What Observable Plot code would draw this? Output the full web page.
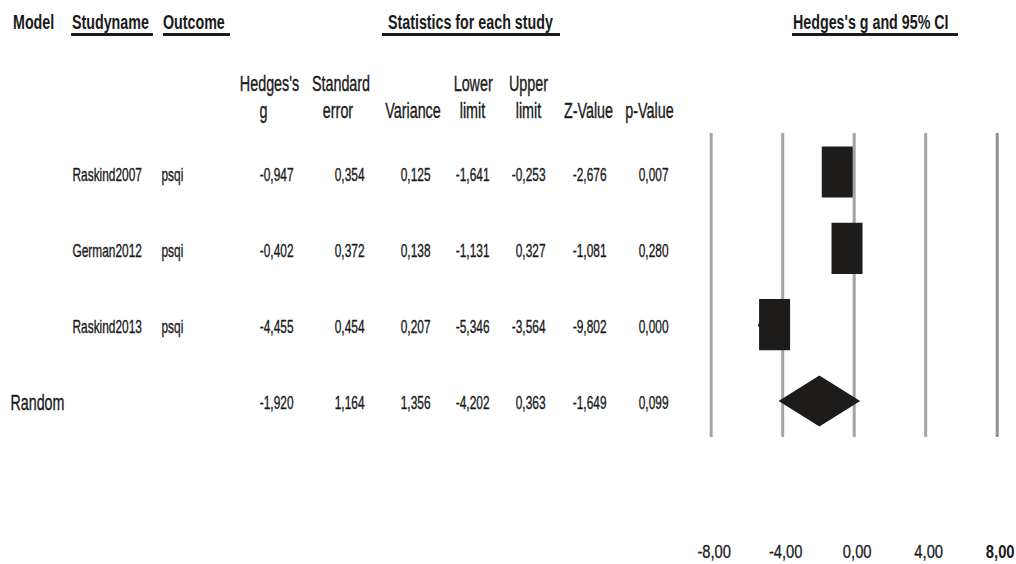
<!DOCTYPE html>
<html>
<head>
<meta charset="utf-8">
<script src="https://cdn.jsdelivr.net/npm/d3@7"></script>
<script src="https://cdn.jsdelivr.net/npm/@observablehq/plot@0.6"></script>
<style>
  html, body { margin: 0; padding: 0; background: #fff; }
  #chart { position: relative; width: 1016px; height: 564px; overflow: hidden;
    font-family: "Liberation Sans", Arial, sans-serif; color: #1a1a1a; }
  .hdr { position: absolute; top: 14px; height: 19px; line-height: 19px; font-size: 17.4px; font-weight: bold; white-space: nowrap; }
  .hdr span { display: inline-block; transform: scale(0.82, 1.2); transform-origin: 0 15.5px; }
  .ul { border-bottom: 3px solid #1a1a1a; }
  .panel { position: absolute; top: 0; }
</style>
</head>
<body>
<div id="chart">
  <div class="hdr" style="left:13px"><span>Model</span></div>
  <div class="hdr ul" style="left:71px;padding-left:1px;padding-right:4px"><span>Studyname</span></div>
  <div class="hdr ul" style="left:163px;padding-right:5px"><span>Outcome</span></div>
  <div class="hdr ul" style="left:382px;padding-left:6px;padding-right:7px"><span>Statistics for each study</span></div>
  <div class="hdr ul" style="left:792px;padding-left:1px;padding-right:9px"><span>Hedges's g and 95% CI</span></div>
  <div id="table" class="panel" style="left:0"></div>
  <div id="forest" class="panel" style="left:690px"></div>
</div>
<script>
// ---------- data ----------
const studies = ["Raskind2007", "German2012", "Raskind2013"];
const outcomes = ["psqi", "psqi", "psqi"];
const hedgesG = [-0.947, -0.402, -4.455];
const stdError = [0.354, 0.372, 0.454];
const variance = [0.125, 0.138, 0.207];
const lowerLimit = [-1.641, -1.131, -5.346];
const upperLimit = [-0.253, 0.327, -3.564];
const zValue = [-2.676, -1.081, -9.802];
const pValue = [0.007, 0.280, 0.000];
const summaryModel = "Random";
const summaryStats = [-1.920, 1.164, 1.356, -4.202, 0.363, -1.649, 0.099]; // g, se, var, lower, upper, z, p
const statKeys = ["g", "se", "var", "lower", "upper", "z", "p"];
const headerLine1 = ["Hedges's", "Standard", "", "Lower", "Upper", "", ""];
const headerLine2 = ["g", "error", "Variance", "limit", "limit", "Z-Value", "p-Value"];
const tickValues = [-8, -4, 0, 4, 8];

// ---------- layout (pixels, not data) ----------
const colRight = {g: 293, se: 364, var: 430, lower: 489, upper: 545, z: 606, p: 668};
const head1X = [269, 340.5, 0, 472.7, 528, 0, 0];
const head2X = [263, 337.5, 412.5, 472, 528, 588, 649];
const ink = "#1a1a1a";
const fontFamily = '"Liberation Sans", Arial, sans-serif';

const fmt3 = v => v.toFixed(3).replace(".", ",");
const fmt2 = v => v.toFixed(2).replace(".", ",");

const rowKeys = [...studies, summaryModel];
const studyStats = [hedgesG, stdError, variance, lowerLimit, upperLimit, zValue, pValue];

const cells = [];
studies.forEach((s, i) => statKeys.forEach((k, j) => cells.push({row: s, col: k, value: studyStats[j][i]})));
statKeys.forEach((k, j) => cells.push({row: summaryModel, col: k, value: summaryStats[j]}));

const headers = [];
statKeys.forEach((k, j) => {
  if (headerLine1[j]) headers.push({line: 1, x: head1X[j], text: headerLine1[j]});
  headers.push({line: 2, x: head2X[j], text: headerLine2[j]});
});

// narrow + tall glyphs, scaled about each text's own anchor
function stretch(svg, sx, sy) {
  d3.select(svg).selectAll("text").each(function () {
    const t = this.getAttribute("transform");
    if (t) this.setAttribute("transform", `${t} scale(${sx},${sy})`);
    else {
      const x = +this.getAttribute("x") || 0, y = +this.getAttribute("y") || 0;
      this.setAttribute("transform", `translate(${x},${y}) scale(${sx},${sy}) translate(${-x},${-y})`);
    }
  });
  return svg;
}

const textStyle = {fill: ink, stroke: ink, strokeWidth: 0.3};

// ---------- table ----------
const table = Plot.plot({
  width: 690, height: 564,
  marginTop: 0, marginBottom: 0, marginLeft: 0, marginRight: 0,
  style: {fontFamily, background: "transparent", color: ink, overflow: "visible"},
  x: {type: "identity", axis: null},
  y: {type: "point", domain: rowKeys, range: [174, 403], padding: 0, axis: null},
  marks: [
    Plot.text(headers.filter(d => d.line === 1), {x: "x", frameAnchor: "top", lineAnchor: "middle", dy: 84, text: "text", fontSize: 17.5, ...textStyle}),
    Plot.text(headers.filter(d => d.line === 2), {x: "x", frameAnchor: "top", lineAnchor: "middle", dy: 111, text: "text", fontSize: 17.5, ...textStyle}),
    Plot.text(studies, {x: 72, y: d => d, text: d => d, textAnchor: "start", fontSize: 14.5, ...textStyle}),
    Plot.text(studies.map((s, i) => ({row: s, outcome: outcomes[i]})), {x: 161, y: "row", text: "outcome", textAnchor: "start", fontSize: 14.5, ...textStyle}),
    Plot.text([summaryModel], {x: 10, y: d => d, text: d => d, textAnchor: "start", fontSize: 17.4, ...textStyle}),
    Plot.text(cells, {x: d => colRight[d.col], y: "row", text: d => fmt3(d.value), textAnchor: "end", fontSize: 14.5, ...textStyle})
  ]
});
document.getElementById("table").appendChild(stretch(table, 0.82, 1.22));

// ---------- forest ----------
const studyRows = studies.map((s, i) => ({i, g: hedgesG[i], lo: lowerLimit[i], hi: upperLimit[i]}));
const sumIdx = rowKeys.indexOf(summaryModel);
const half = 0.335;
const diamond = [
  {x: summaryStats[3], y1: sumIdx, y2: sumIdx},
  {x: summaryStats[0], y1: sumIdx - half, y2: sumIdx + half},
  {x: summaryStats[4], y1: sumIdx, y2: sumIdx}
];
const boxInk = "#1d1c1a";
const forest = Plot.plot({
  width: 326, height: 564,
  marginTop: 133, marginBottom: 127, marginLeft: 20.7, marginRight: 19.3,
  style: {fontFamily, background: "transparent", color: ink, overflow: "visible"},
  x: {domain: [-8, 8], axis: null},
  y: {domain: [0, 3], range: [172, 401], axis: null},
  marks: [
    Plot.ruleX(tickValues.filter(d => d !== 8), {stroke: "#a4a4a8", strokeWidth: 3}),
    Plot.ruleX(tickValues.filter(d => d === 8), {stroke: "#909094", strokeWidth: 3}),
    Plot.ruleY(studyRows, {x1: "lo", x2: "hi", y: "i", stroke: boxInk, strokeWidth: 3}),
    Plot.ruleX(studyRows, {x: "g", y1: d => d.i - half, y2: d => d.i + half, stroke: boxInk, strokeWidth: 31}),
    Plot.areaY(diamond, {x: "x", y1: "y1", y2: "y2", fill: boxInk}),
    Plot.text(tickValues.filter(d => d !== 8), {x: d => d, frameAnchor: "bottom", lineAnchor: "middle", dy: 114.5, dx: 3, text: fmt2, fontSize: 18, ...textStyle}),
    Plot.text(tickValues.filter(d => d === 8), {x: d => d, frameAnchor: "bottom", lineAnchor: "middle", dy: 114.5, dx: 3, text: fmt2, fontSize: 18, fontWeight: "bold", fill: ink})
  ]
});
document.getElementById("forest").appendChild(stretch(forest, 0.82, 1.04));

// size the underlined header boxes to their (scaled) text
document.querySelectorAll(".hdr").forEach(div => {
  const span = div.querySelector("span");
  div.style.width = span.getBoundingClientRect().width + "px";
});
</script>
</body>
</html>
